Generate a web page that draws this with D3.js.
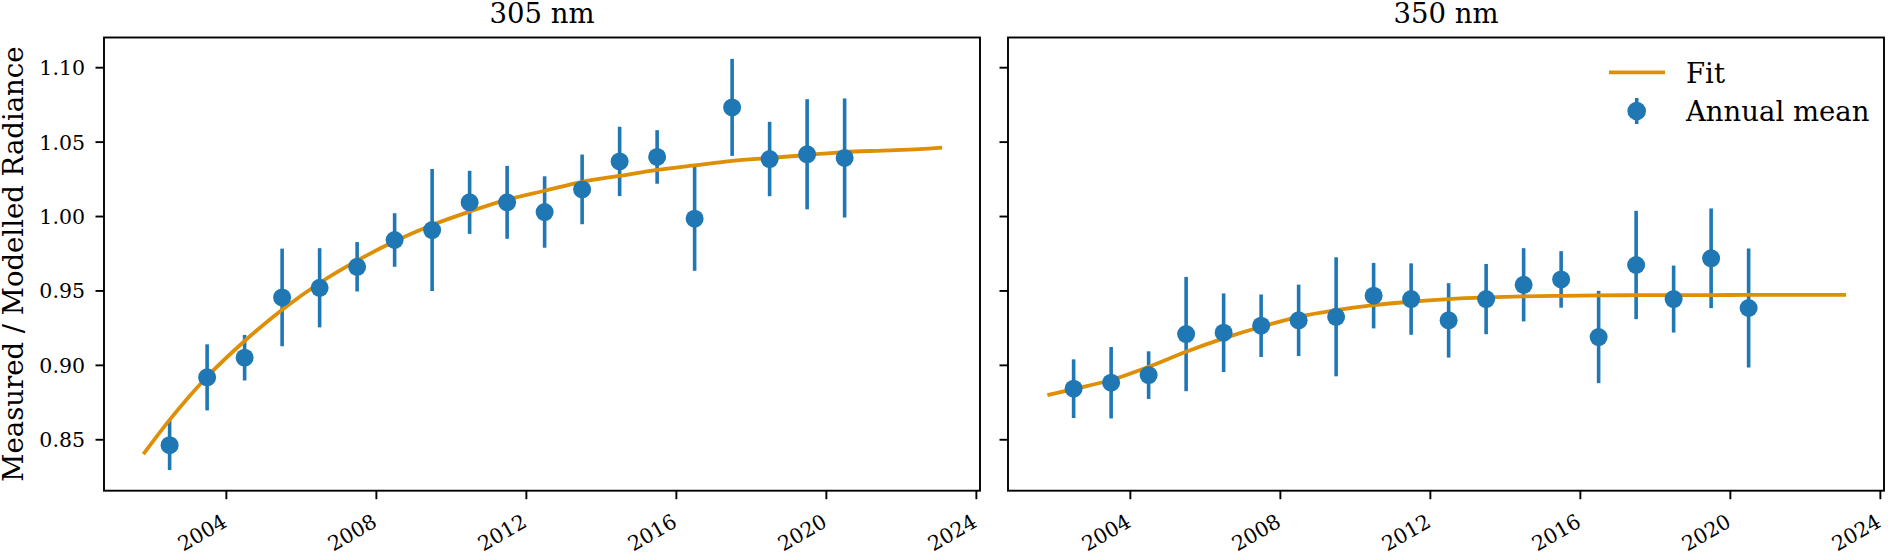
<!DOCTYPE html>
<html>
<head>
<meta charset="utf-8">
<script src="https://cdn.jsdelivr.net/npm/d3@7"></script>
<style>
  html, body { margin: 0; padding: 0; background: #fff; }
  svg { display: block; font-family: "DejaVu Serif", serif; }
</style>
</head>
<body>
<svg id="chart" width="1888" height="553"></svg>
<script>
// ---- Data ----
const years = [2002.5, 2003.5, 2004.5, 2005.5, 2006.5, 2007.5, 2008.5, 2009.5, 2010.5, 2011.5,
               2012.5, 2013.5, 2014.5, 2015.5, 2016.5, 2017.5, 2018.5, 2019.5, 2020.5];

const mean305 = [0.846, 0.8916, 0.9048, 0.9453, 0.9518, 0.9659, 0.9839, 0.9906, 1.0092, 1.0092,
                 1.0027, 1.0179, 1.0367, 1.0397, 0.9982, 1.073, 1.0383, 1.0415, 1.039];
const err305  = [0.0167, 0.0222, 0.0153, 0.0328, 0.0266, 0.0166, 0.018, 0.041, 0.0212, 0.0245,
                 0.024, 0.0234, 0.0233, 0.018, 0.035, 0.0326, 0.025, 0.037, 0.040];

const mean350 = [0.884, 0.888, 0.8931, 0.9207, 0.9216, 0.9263, 0.9299, 0.9323, 0.9465, 0.9442,
                 0.9299, 0.9442, 0.9538, 0.9574, 0.9187, 0.9671, 0.9442, 0.9716, 0.9382];
const err350  = [0.0197, 0.024, 0.016, 0.0384, 0.0264, 0.021, 0.024, 0.040, 0.022, 0.024,
                 0.025, 0.0236, 0.0246, 0.019, 0.031, 0.0364, 0.0225, 0.0335, 0.040];

const fitYears = [2001.8, 2002.5, 2003.5, 2004.5, 2005.5, 2006.5, 2007.5, 2008.5, 2009.5, 2010.5,
                  2011.5, 2012.5, 2013.5, 2014.5, 2015.5, 2016.5, 2017.5, 2018.5, 2019.5, 2020.5,
                  2021.5, 2022.5, 2023.1];
const fit305 = [0.840, 0.863, 0.892, 0.916, 0.937, 0.955, 0.970, 0.983, 0.994, 1.003,
                1.011, 1.017, 1.023, 1.027, 1.031, 1.034, 1.037, 1.039, 1.041, 1.043,
                1.044, 1.045, 1.046];
const fit350 = [0.8797, 0.8837, 0.8898, 0.8987, 0.9088, 0.9178, 0.9256, 0.9323, 0.9368, 0.9402,
                0.9424, 0.9442, 0.9453, 0.9460, 0.9464, 0.9467, 0.9468, 0.9469, 0.9469, 0.9470,
                0.9470, 0.9470, 0.9470];

const titles = ["305 nm", "350 nm"];
const xTickValues = [2004, 2008, 2012, 2016, 2020, 2024];
const yTickValues = [0.85, 0.90, 0.95, 1.00, 1.05, 1.10];
const yLabel = "Measured / Modelled Radiance";
const legendLabels = ["Fit", "Annual mean"];

// ---- Layout ----
const BLUE = "#1f77b4", ORANGE = "#de8f05";
const plotTop = 37.5, plotBottom = 490.7, panelW = 876;
const lefts = [104, 1008];
const svg = d3.select("#chart");
svg.append("rect").attr("width", 1888).attr("height", 553).attr("fill", "#fff");

const y = d3.scaleLinear().domain([0.81544, 1.11996]).range([plotBottom, plotTop]);

const panels = [
  {mean: mean305, err: err305, fit: fit305, title: titles[0], yLabels: true, legend: false},
  {mean: mean350, err: err350, fit: fit350, title: titles[1], yLabels: false, legend: true}
];

panels.forEach((p, i) => {
  const L = lefts[i];
  const x = d3.scaleLinear().domain([2000.75, 2024.11]).range([L, L + panelW]);
  const g = svg.append("g");

  // error bars
  g.selectAll("line.err").data(years).enter().append("line")
    .attr("class", "err")
    .attr("x1", d => x(d)).attr("x2", d => x(d))
    .attr("y1", (d, k) => y(p.mean[k] - p.err[k]))
    .attr("y2", (d, k) => y(p.mean[k] + p.err[k]))
    .attr("stroke", BLUE).attr("stroke-width", 3.6);

  // fit line
  const line = d3.line().x(d => x(d[0])).y(d => y(d[1])).curve(d3.curveMonotoneX);
  g.append("path").datum(fitYears.map((yr, k) => [yr, p.fit[k]]))
    .attr("d", line).attr("fill", "none").attr("stroke", ORANGE).attr("stroke-width", 3.8);

  // markers
  g.selectAll("circle.pt").data(years).enter().append("circle")
    .attr("class", "pt")
    .attr("cx", d => x(d)).attr("cy", (d, k) => y(p.mean[k]))
    .attr("r", 9).attr("fill", BLUE);

  // frame
  g.append("rect").attr("x", L).attr("y", plotTop).attr("width", panelW).attr("height", plotBottom - plotTop)
    .attr("fill", "none").attr("stroke", "#000").attr("stroke-width", 1.9);

  // x axis
  const xAxis = d3.axisBottom(x).tickValues(xTickValues).tickSize(8.5).tickFormat(d3.format("d"));
  const xg = g.append("g").attr("transform", `translate(0,${plotBottom})`).call(xAxis);
  xg.select(".domain").remove();
  xg.selectAll(".tick line").attr("stroke", "#000").attr("stroke-width", 1.9);
  xg.selectAll(".tick text")
    .attr("font-family", "DejaVu Serif").attr("font-size", 20.5).attr("fill", "#000")
    .attr("text-anchor", "end").attr("dy", null).attr("y", null)
    .attr("transform", "translate(2,35) rotate(-30)");

  // y axis
  const yAxis = d3.axisLeft(y).tickValues(yTickValues).tickSize(8.5).tickFormat(d3.format(".2f"));
  const yg = g.append("g").attr("transform", `translate(${L},0)`).call(yAxis);
  yg.select(".domain").remove();
  yg.selectAll(".tick line").attr("stroke", "#000").attr("stroke-width", 1.9);
  if (p.yLabels) {
    yg.selectAll(".tick text")
      .attr("font-family", "DejaVu Serif").attr("font-size", 20.5).attr("fill", "#000")
      .attr("x", -19).attr("dy", "0.36em");
  } else {
    yg.selectAll(".tick text").remove();
  }

  // title
  g.append("text").attr("x", L + panelW / 2).attr("y", 23.3)
    .attr("text-anchor", "middle").attr("font-size", 27.5).attr("fill", "#000").text(p.title);

  if (p.legend) {
    const lg = g.append("g");
    lg.append("line").attr("x1", 1609).attr("x2", 1665).attr("y1", 72.3).attr("y2", 72.3)
      .attr("stroke", ORANGE).attr("stroke-width", 3.8);
    lg.append("text").attr("x", 1686).attr("y", 82.7).attr("font-size", 27.5).attr("fill", "#000").text(legendLabels[0]);
    lg.append("line").attr("x1", 1636.7).attr("x2", 1636.7).attr("y1", 98).attr("y2", 124)
      .attr("stroke", BLUE).attr("stroke-width", 3.6);
    lg.append("circle").attr("cx", 1636.7).attr("cy", 111).attr("r", 9.3).attr("fill", BLUE);
    lg.append("text").attr("x", 1686).attr("y", 121).attr("font-size", 27.5).attr("fill", "#000").text(legendLabels[1]);
  }
});

// y label
svg.append("text")
  .attr("transform", `translate(23.3,${(plotTop + plotBottom) / 2}) rotate(-90)`)
  .attr("text-anchor", "middle").attr("font-size", 27.5).attr("fill", "#000")
  .text(yLabel);
</script>
</body>
</html>
